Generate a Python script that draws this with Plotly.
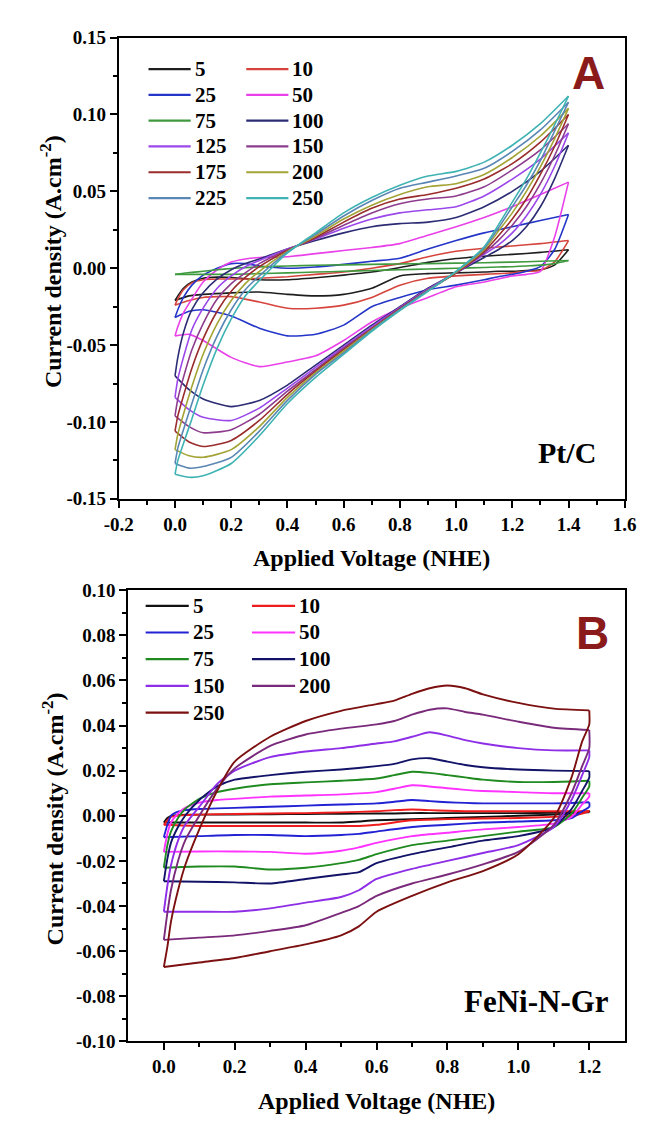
import plotly.graph_objects as go

W, H = 645, 1122

# ---------------- panel A : Pt/C ----------------
ptc_rates = [5, 10, 25, 50, 75, 100, 125, 150, 175, 200, 225, 250]
ptc_colors = ['#1e1e1e', '#d6453d', '#2436c8', '#e940e9', '#3f9a3f', '#2c2c74',
              '#9b47ea', '#8d3c8d', '#9a2c2c', '#a3a336', '#5a86b4', '#3fb3b3']

# forward (anodic) sweep voltages and reverse sweep voltages
ptc_v_fwd = [0, 0.01, 0.03, 0.06, 0.1, 0.15, 0.2, 0.25, 0.3, 0.4, 0.5, 0.6, 0.7, 0.8, 0.9, 1.0, 1.1, 1.2, 1.3, 1.4]
ptc_v_rev = [1.4, 1.35, 1.3, 1.25, 1.2, 1.15, 1.1, 1.0, 0.9, 0.8, 0.7, 0.6, 0.5, 0.4, 0.3, 0.2, 0.1, 0.05, 0.0]

ptc_fwd_5 = [-0.021, -0.018, -0.013, -0.009, -0.0065, -0.0058, -0.006, -0.0068, -0.0075, -0.0075, -0.0062, -0.0045, -0.0025, 0.0005, 0.0038, 0.0063, 0.0078, 0.009, 0.0103, 0.012]
ptc_fwd_10 = [-0.024, -0.02, -0.014, -0.0095, -0.0075, -0.007, -0.007, -0.007, -0.0065, -0.0055, -0.004, -0.0025, 0.0, 0.003, 0.0075, 0.011, 0.013, 0.0145, 0.016, 0.018]
ptc_fwd_25 = [-0.032, -0.027, -0.019, -0.011, -0.0045, 0.0, 0.003, 0.003, 0.0015, 0.0, 0.0008, 0.0025, 0.0045, 0.0065, 0.0125, 0.018, 0.023, 0.027, 0.031, 0.035]
ptc_fwd_50 = [-0.044, -0.038, -0.029, -0.02, -0.009, -0.001, 0.004, 0.006, 0.007, 0.0075, 0.0095, 0.0115, 0.0135, 0.016, 0.0215, 0.027, 0.033, 0.040, 0.048, 0.056]
ptc_fwd_75 = [-0.004, -0.0038, -0.0033, -0.0027, -0.002, -0.001, -0.0002, 0.0004, 0.0009, 0.0015, 0.0019, 0.0022, 0.0025, 0.0028, 0.003, 0.0033, 0.0036, 0.004, 0.0045, 0.005]
ptc_fwd_100 = [-0.070, -0.058, -0.042, -0.027, -0.016, -0.007, -0.001, 0.003, 0.006, 0.0125, 0.018, 0.023, 0.027, 0.029, 0.030, 0.033, 0.040, 0.050, 0.063, 0.080]
ptc_fwd_125 = [-0.084, -0.072, -0.058, -0.040, -0.026, -0.013, -0.005, 0.001, 0.005, 0.0125, 0.019, 0.026, 0.032, 0.036, 0.038, 0.040, 0.047, 0.058, 0.071, 0.088]
ptc_fwd_150 = [-0.096, -0.085, -0.071, -0.053, -0.036, -0.020, -0.010, -0.003, 0.003, 0.012, 0.0195, 0.028, 0.036, 0.042, 0.045, 0.047, 0.053, 0.064, 0.077, 0.094]
ptc_fwd_175 = [-0.106, -0.096, -0.083, -0.065, -0.046, -0.028, -0.015, -0.006, 0.001, 0.0115, 0.020, 0.030, 0.039, 0.045, 0.048, 0.052, 0.058, 0.068, 0.082, 0.100]
ptc_fwd_200 = [-0.118, -0.108, -0.095, -0.077, -0.056, -0.036, -0.021, -0.010, -0.002, 0.011, 0.021, 0.032, 0.041, 0.048, 0.053, 0.055, 0.061, 0.072, 0.086, 0.104]
ptc_fwd_225 = [-0.127, -0.117, -0.105, -0.088, -0.066, -0.044, -0.027, -0.014, -0.005, 0.0105, 0.022, 0.034, 0.044, 0.052, 0.056, 0.060, 0.065, 0.076, 0.090, 0.108]
ptc_fwd_250 = [-0.134, -0.125, -0.114, -0.098, -0.076, -0.052, -0.033, -0.018, -0.008, 0.010, 0.023, 0.036, 0.046, 0.054, 0.060, 0.063, 0.069, 0.080, 0.094, 0.112]

ptc_rev_5 = [0.012, 0.002, -0.001, -0.0015, -0.002, -0.002, -0.0025, -0.003, -0.0035, -0.005, -0.013, -0.017, -0.018, -0.017, -0.0155, -0.016, -0.017, -0.018, -0.021]
ptc_rev_10 = [0.018, 0.004, -0.0015, -0.002, -0.003, -0.0035, -0.004, -0.005, -0.0065, -0.011, -0.019, -0.024, -0.026, -0.026, -0.022, -0.0185, -0.019, -0.021, -0.024]
ptc_rev_25 = [0.035, 0.012, 0.001, -0.002, -0.004, -0.0055, -0.0075, -0.011, -0.014, -0.019, -0.025, -0.037, -0.043, -0.044, -0.039, -0.031, -0.027, -0.028, -0.032]
ptc_rev_50 = [0.056, 0.020, -0.002, -0.004, -0.005, -0.007, -0.009, -0.012, -0.019, -0.026, -0.035, -0.047, -0.057, -0.061, -0.064, -0.058, -0.047, -0.043, -0.044]
ptc_rev_75 = [0.005, 0.003, 0.002, 0.0015, 0.001, 0.0008, 0.0005, 0.0, -0.0005, -0.001, -0.0015, -0.002, -0.0025, -0.003, -0.0035, -0.004, -0.004, -0.004, -0.004]
ptc_rev_100 = [0.080, 0.058, 0.040, 0.027, 0.018, 0.012, 0.007, -0.003, -0.013, -0.025, -0.037, -0.050, -0.063, -0.076, -0.086, -0.090, -0.085, -0.079, -0.070]
ptc_rev_125 = [0.088, 0.066, 0.048, 0.034, 0.023, 0.015, 0.009, -0.003, -0.0135, -0.0255, -0.038, -0.051, -0.0645, -0.078, -0.091, -0.099, -0.097, -0.092, -0.084]
ptc_rev_150 = [0.094, 0.073, 0.055, 0.040, 0.028, 0.018, 0.010, -0.003, -0.014, -0.026, -0.039, -0.052, -0.066, -0.080, -0.095, -0.105, -0.107, -0.103, -0.096]
ptc_rev_175 = [0.100, 0.079, 0.061, 0.045, 0.032, 0.021, 0.011, -0.003, -0.0145, -0.0265, -0.0395, -0.053, -0.067, -0.082, -0.099, -0.112, -0.116, -0.113, -0.106]
ptc_rev_200 = [0.104, 0.084, 0.066, 0.050, 0.036, 0.024, 0.012, -0.0025, -0.0145, -0.027, -0.040, -0.054, -0.068, -0.084, -0.103, -0.118, -0.123, -0.122, -0.118]
ptc_rev_225 = [0.108, 0.089, 0.070, 0.054, 0.040, 0.026, 0.013, -0.002, -0.0145, -0.027, -0.0405, -0.055, -0.069, -0.086, -0.106, -0.123, -0.129, -0.130, -0.127]
ptc_rev_250 = [0.112, 0.093, 0.075, 0.058, 0.043, 0.028, 0.014, -0.002, -0.015, -0.0275, -0.041, -0.056, -0.071, -0.088, -0.109, -0.127, -0.135, -0.136, -0.134]

ptc_fwd = [ptc_fwd_5, ptc_fwd_10, ptc_fwd_25, ptc_fwd_50, ptc_fwd_75, ptc_fwd_100,
           ptc_fwd_125, ptc_fwd_150, ptc_fwd_175, ptc_fwd_200, ptc_fwd_225, ptc_fwd_250]
ptc_rev = [ptc_rev_5, ptc_rev_10, ptc_rev_25, ptc_rev_50, ptc_rev_75, ptc_rev_100,
           ptc_rev_125, ptc_rev_150, ptc_rev_175, ptc_rev_200, ptc_rev_225, ptc_rev_250]

ptc_xticks = [-0.2, 0.0, 0.2, 0.4, 0.6, 0.8, 1.0, 1.2, 1.4, 1.6]
ptc_yticks = [-0.15, -0.10, -0.05, 0.00, 0.05, 0.10, 0.15]

# ---------------- panel B : FeNi-N-Gr ----------------
feni_rates = [5, 10, 25, 50, 75, 100, 150, 200, 250]
feni_colors = ['#111111', '#ee1c1c', '#2222d4', '#ff33ff', '#1f8a1f', '#121268',
               '#8e2ee6', '#7a2a7a', '#7c1010']

feni_v_fwd = [0, 0.01, 0.02, 0.04, 0.06, 0.1, 0.15, 0.2, 0.3, 0.4, 0.5, 0.6, 0.65, 0.7, 0.75, 0.8, 0.85, 0.9, 1.0, 1.1, 1.2]
feni_v_rev = [1.2, 1.2, 1.18, 1.15, 1.1, 1.0, 0.9, 0.8, 0.7, 0.6, 0.55, 0.5, 0.4, 0.3, 0.2, 0.1, 0.0]

feni_fwd_5 = [-0.003, -0.001, 0.0, 0.0003, 0.0005, 0.0005, 0.0005, 0.0006, 0.0007, 0.0008, 0.0009, 0.001, 0.001, 0.0012, 0.0012, 0.0012, 0.0012, 0.0012, 0.0012, 0.0013, 0.0015]
feni_fwd_10 = [-0.004, -0.002, -0.0005, 0.0, 0.0003, 0.0005, 0.0007, 0.0008, 0.001, 0.0012, 0.0015, 0.002, 0.0025, 0.0028, 0.0025, 0.0022, 0.002, 0.002, 0.002, 0.002, 0.002]
feni_fwd_25 = [-0.0095, -0.004, 0.0, 0.0018, 0.0025, 0.003, 0.0033, 0.0035, 0.004, 0.0045, 0.005, 0.0055, 0.0062, 0.007, 0.0065, 0.006, 0.0057, 0.0055, 0.0055, 0.0055, 0.006]
feni_fwd_50 = [-0.016, -0.008, -0.003, 0.001, 0.0035, 0.0058, 0.007, 0.0075, 0.0085, 0.009, 0.0095, 0.0105, 0.012, 0.0135, 0.013, 0.0122, 0.0115, 0.011, 0.0105, 0.010, 0.010]
feni_fwd_75 = [-0.023, -0.013, -0.007, -0.001, 0.003, 0.0075, 0.0105, 0.012, 0.014, 0.0148, 0.0155, 0.0165, 0.018, 0.0195, 0.019, 0.018, 0.017, 0.016, 0.015, 0.015, 0.0155]
feni_fwd_100 = [-0.029, -0.019, -0.012, -0.005, 0.0, 0.007, 0.013, 0.016, 0.018, 0.0195, 0.0205, 0.022, 0.023, 0.025, 0.0255, 0.024, 0.0225, 0.0215, 0.0205, 0.020, 0.0198]
feni_fwd_150 = [-0.0425, -0.031, -0.022, -0.011, -0.004, 0.004, 0.014, 0.020, 0.026, 0.0285, 0.030, 0.032, 0.033, 0.035, 0.037, 0.0355, 0.0335, 0.032, 0.030, 0.029, 0.029]
feni_fwd_200 = [-0.055, -0.043, -0.033, -0.020, -0.011, 0.0, 0.012, 0.021, 0.031, 0.036, 0.0386, 0.0405, 0.042, 0.0448, 0.047, 0.0476, 0.046, 0.0448, 0.0417, 0.039, 0.038]
feni_fwd_250 = [-0.067, -0.058, -0.047, -0.033, -0.022, -0.006, 0.011, 0.024, 0.035, 0.042, 0.0465, 0.0495, 0.051, 0.054, 0.0565, 0.0577, 0.0565, 0.0538, 0.050, 0.0475, 0.0467]

feni_rev_5 = [0.0015, 0.002, 0.0015, 0.001, 0.0005, 0.0, -0.0005, -0.001, -0.0015, -0.002, -0.0025, -0.003, -0.003, -0.003, -0.003, -0.003, -0.003]
feni_rev_10 = [0.002, 0.002, 0.001, 0.0, -0.0005, -0.001, -0.0012, -0.0015, -0.002, -0.004, -0.0045, -0.0045, -0.0045, -0.0045, -0.0045, -0.0045, -0.004]
feni_rev_25 = [0.006, 0.004, 0.002, -0.001, -0.002, -0.0025, -0.003, -0.004, -0.005, -0.007, -0.008, -0.0085, -0.009, -0.0085, -0.0085, -0.009, -0.0095]
feni_rev_50 = [0.010, 0.0085, 0.005, -0.0005, -0.0035, -0.005, -0.006, -0.0075, -0.009, -0.012, -0.014, -0.0155, -0.0168, -0.016, -0.0158, -0.0158, -0.016]
feni_rev_75 = [0.0155, 0.013, 0.008, 0.001, -0.005, -0.007, -0.009, -0.011, -0.013, -0.017, -0.0195, -0.021, -0.023, -0.0238, -0.0225, -0.0225, -0.023]
feni_rev_100 = [0.0198, 0.017, 0.011, 0.003, -0.005, -0.009, -0.011, -0.014, -0.017, -0.021, -0.025, -0.026, -0.028, -0.030, -0.0295, -0.0292, -0.029]
feni_rev_150 = [0.029, 0.026, 0.018, 0.007, -0.005, -0.013, -0.0165, -0.020, -0.0235, -0.028, -0.033, -0.036, -0.0385, -0.041, -0.0425, -0.0425, -0.0425]
feni_rev_200 = [0.038, 0.030, 0.022, 0.010, -0.004, -0.016, -0.0215, -0.026, -0.030, -0.0355, -0.040, -0.043, -0.0485, -0.051, -0.053, -0.054, -0.055]
feni_rev_250 = [0.0467, 0.0405, 0.033, 0.017, -0.001, -0.017, -0.0245, -0.0295, -0.0355, -0.0425, -0.049, -0.053, -0.057, -0.060, -0.063, -0.065, -0.067]

feni_fwd = [feni_fwd_5, feni_fwd_10, feni_fwd_25, feni_fwd_50, feni_fwd_75,
            feni_fwd_100, feni_fwd_150, feni_fwd_200, feni_fwd_250]
feni_rev = [feni_rev_5, feni_rev_10, feni_rev_25, feni_rev_50, feni_rev_75,
            feni_rev_100, feni_rev_150, feni_rev_200, feni_rev_250]

feni_xticks = [0.0, 0.2, 0.4, 0.6, 0.8, 1.0, 1.2]
feni_yticks = [-0.10, -0.08, -0.06, -0.04, -0.02, 0.00, 0.02, 0.04, 0.06, 0.08, 0.10]

SERIF = 'Liberation Serif'

fig = go.Figure()

# curves: forward and reverse sweeps drawn as separate smooth segments
for i in range(len(ptc_rates)):
    for vx, vy in [(ptc_v_fwd, ptc_fwd[i]), (ptc_v_rev, ptc_rev[i])]:
        fig.add_trace(go.Scatter(x=vx, y=vy, mode='lines', xaxis='x', yaxis='y',
                                 line=dict(color=ptc_colors[i], width=1.6, shape='spline', smoothing=0.6),
                                 name=str(ptc_rates[i]), showlegend=False))

for i in range(len(feni_rates)):
    for vx, vy in [(feni_v_fwd, feni_fwd[i]), (feni_v_rev, feni_rev[i])]:
        fig.add_trace(go.Scatter(x=vx, y=vy, mode='lines', xaxis='x2', yaxis='y2',
                                 line=dict(color=feni_colors[i], width=1.9, shape='spline', smoothing=0.6),
                                 name=str(feni_rates[i]), showlegend=False))


def px(x):
    return x / W


def py(y):
    return 1 - y / H


tickfont = dict(family=SERIF, size=19, color='black', weight='bold')
axis_common = dict(showline=True, linewidth=2, linecolor='black', mirror=True,
                   showgrid=False, zeroline=False, ticks='outside', ticklen=7,
                   tickwidth=2, tickcolor='black', tickfont=tickfont)


def mids(ticks):
    return [round((a + b) / 2, 4) for a, b in zip(ticks[:-1], ticks[1:])]


fig.update_layout(
    width=W, height=H,
    margin=dict(l=0, r=0, t=0, b=0),
    paper_bgcolor='white', plot_bgcolor='white',
    showlegend=False,
    xaxis=dict(domain=[px(100), px(628)], range=[-0.2, 1.6], anchor='y',
               tickvals=ptc_xticks, ticktext=[f'{v:.1f}' for v in ptc_xticks],
               minor=dict(tickvals=mids(ptc_xticks), ticks='outside', ticklen=4, tickwidth=1.5, tickcolor='black'),
               **axis_common),
    yaxis=dict(domain=[py(490), py(20)], range=[-0.15, 0.15], anchor='x',
               tickvals=ptc_yticks, ticktext=[f'{v:.2f}' for v in ptc_yticks],
               minor=dict(tickvals=mids(ptc_yticks), ticks='outside', ticklen=4, tickwidth=1.5, tickcolor='black'),
               **axis_common),
    xaxis2=dict(domain=[px(110), px(628)], range=[-0.1, 1.3], anchor='y2',
                tickvals=feni_xticks, ticktext=[f'{v:.1f}' for v in feni_xticks],
                minor=dict(tickvals=mids(feni_xticks), ticks='outside', ticklen=4, tickwidth=1.5, tickcolor='black'),
                **axis_common),
    yaxis2=dict(domain=[py(1043), py(583)], range=[-0.1, 0.1], anchor='x2',
                tickvals=feni_yticks, ticktext=[f'{v:.2f}' for v in feni_yticks],
                minor=dict(tickvals=mids(feni_yticks), ticks='outside', ticklen=4, tickwidth=1.5, tickcolor='black'),
                **axis_common),
)

ann = []
shapes = []
title_font = dict(family=SERIF, size=24, color='black', weight='bold')

# axis titles
ann.append(dict(x=px(30), y=py(248), text='Current density (A.cm<sup>-2</sup>)', textangle=-90, font=title_font))
ann.append(dict(x=px(364), y=py(550), text='Applied Voltage (NHE)', font=title_font))
ann.append(dict(x=px(31), y=py(816), text='Current density (A.cm<sup>-2</sup>)', textangle=-90, font=title_font))
ann.append(dict(x=px(369), y=py(1104), text='Applied Voltage (NHE)', font=title_font))

# panel letters and sample names
letter_font = dict(family='Liberation Sans', size=46, color='#8b1a1a', weight='bold')
ann.append(dict(x=px(590), y=py(56), text='A', font=letter_font))
ann.append(dict(x=px(594), y=py(627), text='B', font=letter_font))
ann.append(dict(x=px(568), y=py(443), text='Pt/C', font=dict(family=SERIF, size=30, color='black', weight='bold')))
ann.append(dict(x=px(536), y=py(1002), text='FeNi-N-Gr', font=dict(family=SERIF, size=31, color='black', weight='bold')))

# hand-placed two-column legends
legend_font = dict(family=SERIF, size=21, color='black', weight='bold')


def add_legend(rates, colors, top, step, cols):
    for k, (rate, col) in enumerate(zip(rates, colors)):
        row, c = divmod(k, 2)
        x0, x1, xt = cols[c]
        yy = top + step * row
        shapes.append(dict(type='line', xref='paper', yref='paper', x0=px(x0), x1=px(x1),
                           y0=py(yy), y1=py(yy), line=dict(color=col, width=2.2)))
        ann.append(dict(x=px(xt), y=py(yy), text=str(rate), xanchor='left', font=legend_font))


add_legend(ptc_rates, ptc_colors, 52, 26.3, [(131, 175, 177), (233, 277, 279)])
add_legend(feni_rates, feni_colors, 599, 27.2, [(128, 173, 175), (239, 284, 286)])

for a in ann:
    a.setdefault('xref', 'paper')
    a.setdefault('yref', 'paper')
    a.setdefault('showarrow', False)
    a.setdefault('xanchor', 'center')
    a.setdefault('yanchor', 'middle')

fig.update_layout(annotations=ann, shapes=shapes)

fig.write_html('out.html')
